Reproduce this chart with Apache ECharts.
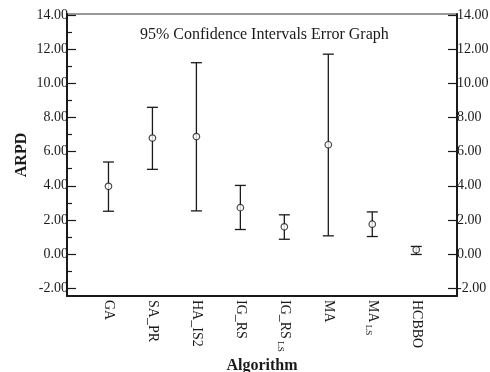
<!DOCTYPE html>
<html>
<head>
<meta charset="utf-8">
<script src="https://cdn.jsdelivr.net/npm/echarts@6/dist/echarts.min.js"></script>
<style>html,body{margin:0;padding:0;background:#fff;}#c{width:490px;height:372px;}</style>
</head>
<body>
<div id="c"></div>
<script>
const categories = ['GA', 'SA_PR', 'HA_IS2', 'IG_RS', 'IG_RS_LS', 'MA', 'MA_LS', 'HCBBO'];
const means = [3.97, 6.79, 6.88, 2.72, 1.60, 6.40, 1.75, 0.26];
const upper = [5.39, 8.59, 11.20, 4.02, 2.30, 11.70, 2.47, 0.45];
const lower = [2.51, 4.96, 2.53, 1.44, 0.87, 1.07, 1.03, -0.02];
const yTicks = [-2, 0, 2, 4, 6, 8, 10, 12, 14];
const yMinorTicks = [-1, 1, 3, 5, 7, 9, 11, 13];

const FONT = '"Liberation Serif", "Times New Roman", serif';
const INK = '#1a1a1a';

const labelFor = (name) => {
  const m = name.match(/^(.*)_LS$/);
  if (m) return '{n|' + m[1] + '}{s| LS}';
  return '{n|' + name + '}';
};

const chart = echarts.init(document.getElementById('c'), null, {renderer: 'canvas'});
const yBase = {
  type: 'value', min: -2.45, max: 14.05,
  splitLine: {show: false}
};
chart.setOption({
  animation: false,
  backgroundColor: '#fff',
  title: {
    text: '95% Confidence Intervals Error Graph',
    left: 135, top: 22,
    textStyle: {fontFamily: FONT, fontSize: 16, fontWeight: 'normal', color: INK}
  },
  grid: {left: 67, right: 33, top: 14, bottom: 76, show: true, borderColor: '#333', borderWidth: 1,
    containLabel: false, outerBoundsMode: 'none'},
  xAxis: {
    type: 'value', min: -0.943, max: 7.927,
    name: 'Algorithm', nameLocation: 'middle', nameGap: 62, nameMoveOverlap: false,
    nameTextStyle: {fontFamily: FONT, fontSize: 16, fontWeight: 'bold', color: INK},
    axisLine: {show: true, onZero: false, lineStyle: {color: INK, width: 2}},
    axisTick: {show: false},
    splitLine: {show: false},
    axisLabel: {
      customValues: categories.map((_, i) => i),
      rotate: -90, margin: 4,
      formatter: (v) => labelFor(categories[Math.round(v)]),
      rich: {
        n: {fontFamily: FONT, fontSize: 14, color: INK, lineHeight: 16},
        s: {fontFamily: FONT, fontSize: 9, color: INK, verticalAlign: 'bottom', lineHeight: 16}
      }
    }
  },
  yAxis: [
    Object.assign({}, yBase, {
      position: 'left',
      name: 'ARPD', nameLocation: 'middle', nameGap: 37, nameRotate: 90, nameMoveOverlap: false,
      nameTextStyle: {fontFamily: FONT, fontSize: 16, fontWeight: 'bold', color: INK},
      axisLine: {show: true, onZero: false, lineStyle: {color: INK, width: 2}},
      axisTick: {show: true, inside: true, length: 9, customValues: yTicks, lineStyle: {color: INK, width: 1.2}},
      axisLabel: {customValues: yTicks, margin: -1, formatter: (v) => v.toFixed(2),
        fontFamily: FONT, fontSize: 14, color: INK}
    }),
    Object.assign({}, yBase, {
      position: 'right',
      axisLine: {show: true, onZero: false, lineStyle: {color: INK, width: 2}},
      axisTick: {show: true, inside: true, length: 9, customValues: yTicks, lineStyle: {color: INK, width: 1.2}},
      axisLabel: {customValues: yTicks, margin: 0, formatter: (v) => v.toFixed(2),
        fontFamily: FONT, fontSize: 14, color: INK}
    }),
    Object.assign({}, yBase, {
      position: 'left', offset: 0,
      axisLine: {show: false, onZero: false},
      axisTick: {show: true, inside: true, length: 5, customValues: yMinorTicks, lineStyle: {color: INK, width: 1.2}},
      axisLabel: {show: false}
    })
  ],
  series: [
    {
      type: 'custom',
      xAxisIndex: 0, yAxisIndex: 0,
      data: categories.map((_, i) => [i, lower[i], upper[i]]),
      renderItem: (params, api) => {
        const x = api.value(0);
        const lo = api.coord([x, api.value(1)]);
        const hi = api.coord([x, api.value(2)]);
        const hw = 5.5;
        const style = {stroke: INK, lineWidth: 1.3};
        return {
          type: 'group',
          children: [
            {type: 'line', shape: {x1: lo[0], y1: lo[1], x2: hi[0], y2: hi[1]}, style},
            {type: 'line', shape: {x1: hi[0] - hw, y1: hi[1], x2: hi[0] + hw, y2: hi[1]}, style},
            {type: 'line', shape: {x1: lo[0] - hw, y1: lo[1], x2: lo[0] + hw, y2: lo[1]}, style}
          ]
        };
      },
      z: 2
    },
    {
      type: 'scatter',
      xAxisIndex: 0, yAxisIndex: 0,
      data: categories.map((_, i) => [i, means[i]]),
      symbol: 'circle', symbolSize: 6.5,
      itemStyle: {color: '#fff', borderColor: INK, borderWidth: 1.2},
      z: 3
    }
  ]
});
</script>
</body>
</html>
